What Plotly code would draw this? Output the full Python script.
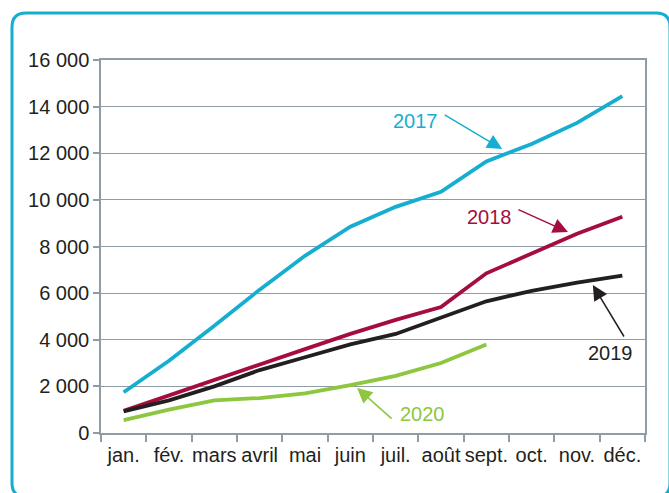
import plotly.graph_objects as go

months = ["jan.", "fév.", "mars", "avril", "mai", "juin", "juil.", "août", "sept.", "oct.", "nov.", "déc."]
y2017 = [1750, 3100, 4600, 6150, 7600, 8850, 9700, 10350, 11650, 12400, 13300, 14450]
y2018 = [950, 1620, 2300, 2950, 3600, 4250, 4850, 5400, 6850, 7700, 8550, 9280]
y2019 = [930, 1400, 2000, 2700, 3250, 3800, 4250, 4950, 5650, 6100, 6450, 6750]
y2020 = [550, 1000, 1400, 1500, 1700, 2050, 2450, 3000, 3800]
ytick_vals = [0, 2000, 4000, 6000, 8000, 10000, 12000, 14000, 16000]
ytick_text = ["0", "2 000", "4 000", "6 000", "8 000", "10 000", "12 000", "14 000", "16 000"]

C2017 = "#16AED0"
C2018 = "#A50D3E"
C2019 = "#231F20"
C2020 = "#8DC63F"
GRID = "#8F9CA6"
FONT = "Liberation Sans, Arial, sans-serif"
FS = 20

W, H = 669, 493
L, R, T, B = 101, 24, 60, 60
PW, PH = W - L - R, H - T - B

fig = go.Figure()
for ys, col, name in [(y2017, C2017, "2017"), (y2018, C2018, "2018"),
                      (y2019, C2019, "2019"), (y2020, C2020, "2020")]:
    fig.add_trace(go.Scatter(x=months[:len(ys)], y=ys, mode="lines", name=name,
                             line=dict(color=col, width=3.8), hoverinfo="x+y"))

def ann(text, x, y, color):
    fig.add_annotation(x=x, y=y, text=text, showarrow=False,
                       font=dict(family=FONT, size=FS, color=color))

def arrow(x, y, ax, ay, color):
    fig.add_annotation(x=x, y=y, ax=ax, ay=ay, text="", showarrow=True,
                       arrowhead=2, arrowsize=2, arrowwidth=1.5, arrowcolor=color,
                       standoff=0)

ann("2017", 6.43, 13383, C2017)
arrow(8.35, 12182, -59, -35, C2017)
ann("2018", 8.08, 9265, C2018)
arrow(9.80, 8622, -51, -23, C2018)
ann("2019", 10.73, 3432, C2019)
arrow(10.35, 6349, 32, 53, C2019)
ann("2020", 6.60, 815, C2020)
arrow(5.15, 1930, 36, 32, C2020)

# rounded frame (pixel -> paper)
def px(x):
    return (x - L) / PW
def py(y):
    return (H - B - y) / PH
x0, y0, x1, y1, r = 12, 13, 670, 497, 14
path = (f"M {px(x0+r)},{py(y0)} L {px(x1-r)},{py(y0)} Q {px(x1)},{py(y0)} {px(x1)},{py(y0+r)} "
        f"L {px(x1)},{py(y1-r)} Q {px(x1)},{py(y1)} {px(x1-r)},{py(y1)} "
        f"L {px(x0+r)},{py(y1)} Q {px(x0)},{py(y1)} {px(x0)},{py(y1-r)} "
        f"L {px(x0)},{py(y0+r)} Q {px(x0)},{py(y0)} {px(x0+r)},{py(y0)} Z")
fig.add_shape(type="path", path=path, xref="paper", yref="paper",
              line=dict(color=C2017, width=3), layer="below")

fig.update_layout(
    width=W, height=H,
    margin=dict(l=L, r=R, t=T, b=B, autoexpand=False),
    paper_bgcolor="white", plot_bgcolor="white",
    showlegend=False,
    font=dict(family=FONT, size=FS, color="#231F20"),
    xaxis=dict(type="category", categoryorder="array", categoryarray=months,
               range=[-0.5, 11.5], tickson="boundaries", ticks="outside", ticklen=7,
               tickcolor=GRID, tickwidth=1.5, showgrid=False, showline=True,
               linecolor=GRID, linewidth=1.5, mirror=True, zeroline=False,
               tickangle=0, automargin=False, ticklabelstandoff=3,
               tickfont=dict(family=FONT, size=FS, color="#231F20")),
    yaxis=dict(range=[0, 16000], tickvals=ytick_vals, ticktext=ytick_text,
               ticks="outside", ticklen=6, tickcolor=GRID, tickwidth=1.5,
               showgrid=True, gridcolor=GRID, gridwidth=1, showline=True,
               linecolor=GRID, linewidth=1.5, mirror=True, zeroline=False,
               automargin=False,
               tickfont=dict(family=FONT, size=FS, color="#231F20")),
)

fig.write_html("out.html", config={"displayModeBar": False},
               post_script="document.body.style.margin='0';document.body.style.overflow='hidden';")
